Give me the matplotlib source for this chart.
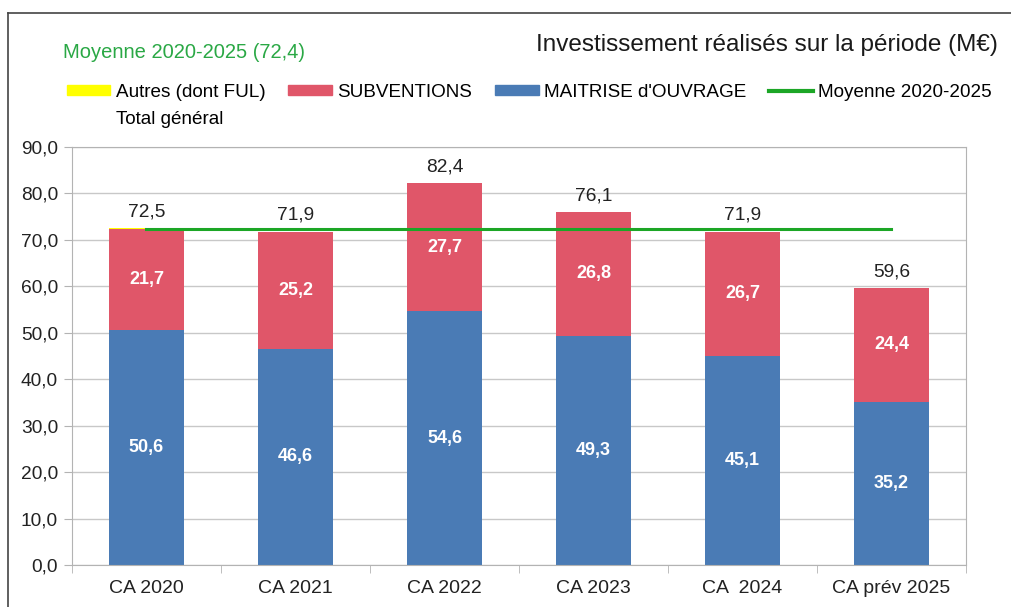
import matplotlib.pyplot as plt
import matplotlib.patches as mpatches
from matplotlib.lines import Line2D
import numpy as np

plt.rcParams['font.family'] = ['Liberation Sans', 'DejaVu Sans']

categories = ['CA 2020', 'CA 2021', 'CA 2022', 'CA 2023', 'CA  2024', 'CA prév 2025']
maitrise = [50.6, 46.6, 54.6, 49.3, 45.1, 35.2]
subventions = [21.7, 25.2, 27.7, 26.8, 26.7, 24.4]
autres = [0.2, 0.0, 0.0, 0.0, 0.0, 0.0]
totals = [72.5, 71.9, 82.4, 76.1, 71.9, 59.6]
moyenne = 72.4

c_blue = '#4a7bb5'
c_red = '#e05669'
c_yellow = '#ffff00'
c_green = '#1ca626'

fig = plt.figure(figsize=(10.12, 6.07), dpi=100)
ax = fig.add_axes([0.0711, 0.0692, 0.8834, 0.6886])

x = np.arange(len(categories))
w = 0.5
ax.bar(x, maitrise, w, color=c_blue, zorder=2)
ax.bar(x, subventions, w, bottom=maitrise, color=c_red, zorder=2)
bottom2 = np.array(maitrise) + np.array(subventions)
ax.bar(x, autres, w, bottom=bottom2, color=c_yellow, zorder=2)
ax.plot([x[0], x[-1]], [moyenne, moyenne], color=c_green, lw=2.2, zorder=3)

for i in range(len(x)):
    ax.text(x[i], maitrise[i] / 2, f'{maitrise[i]:.1f}'.replace('.', ','),
            ha='center', va='center', color='white', fontsize=13, fontweight='bold', zorder=4)
    ax.text(x[i], maitrise[i] + subventions[i] / 2, f'{subventions[i]:.1f}'.replace('.', ','),
            ha='center', va='center', color='white', fontsize=13, fontweight='bold', zorder=4)
    ax.text(x[i], totals[i] + 3.4, f'{totals[i]:.1f}'.replace('.', ','),
            ha='center', va='center', color='#222222', fontsize=13.8, zorder=4)

ax.set_xlim(-0.5, len(x) - 0.5)
ax.set_ylim(0, 90)
ax.set_yticks(np.arange(0, 91, 10))
ax.set_yticklabels([f'{v:.1f}'.replace('.', ',') for v in np.arange(0, 91, 10)], fontsize=13.8, color='#222222')
ax.set_xticks(x)
ax.set_xticklabels(categories, fontsize=14, color='#222222')
ax.tick_params(axis='x', length=0, pad=11)
ax.set_xticks(np.arange(-0.5, len(x), 1), minor=True)
ax.tick_params(axis='x', which='minor', length=6, color='#b3b3b3')
ax.tick_params(axis='y', length=6, color='#b3b3b3', pad=4)
ax.grid(axis='y', color='#c8c8c8', lw=1, zorder=0)
for s in ax.spines.values():
    s.set_color('#b3b3b3')

fig.text(63 / 1012, 1 - 52 / 607, 'Moyenne 2020-2025 (72,4)', color='#2aa845',
         fontsize=14.5, va='center', ha='left')
fig.text(998 / 1012, 1 - 45 / 607, 'Investissement réalisés sur la période (M€)',
         color='#1a1a1a', fontsize=17.5, va='center', ha='right')

handles = [mpatches.Patch(color=c_yellow), mpatches.Patch(visible=False),
           mpatches.Patch(color=c_red), mpatches.Patch(color=c_blue),
           Line2D([], [], color=c_green, lw=3)]
labels = ['Autres (dont FUL)', 'Total général', 'SUBVENTIONS', "MAITRISE d'OUVRAGE", 'Moyenne 2020-2025']
fig.legend(handles, labels, loc='upper left', bbox_to_anchor=(67 / 1012, 1 - 84 / 607),
           ncol=4, frameon=False, fontsize=13.6, handlelength=2.3, handleheight=0.45,
           handletextpad=0.3, columnspacing=1.2, borderpad=0, borderaxespad=0,
           labelspacing=0.55)

fig.add_artist(Line2D([8 / 1012, 8 / 1012], [0, 1 - 13 / 607], color='#444444', lw=1.2))
fig.add_artist(Line2D([8 / 1012, 1], [1 - 13 / 607, 1 - 13 / 607], color='#444444', lw=1.2))

fig.savefig('out.png', dpi=100)
